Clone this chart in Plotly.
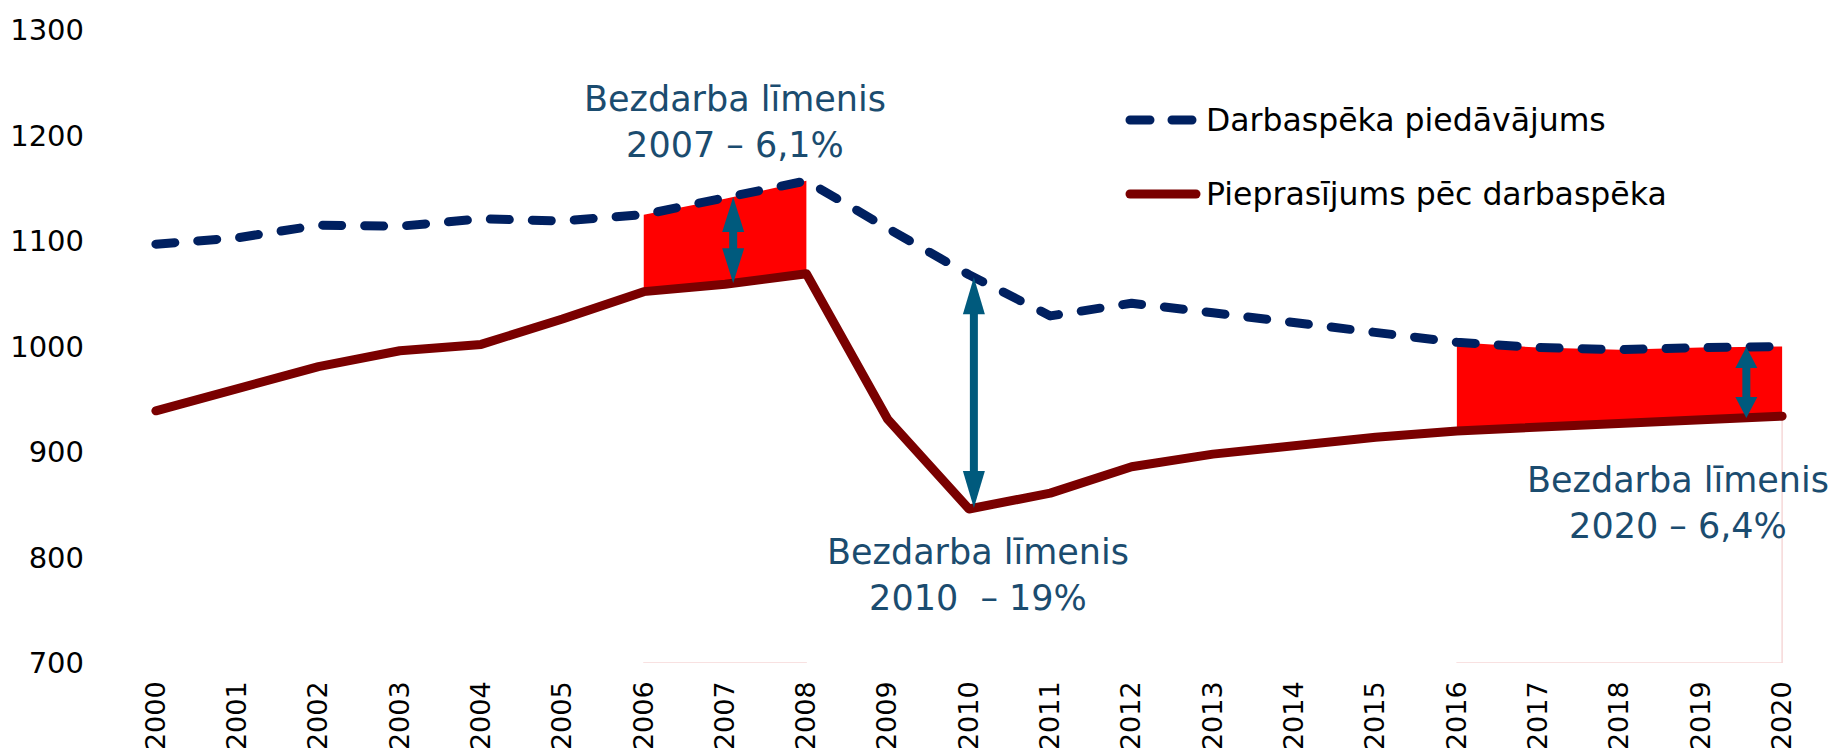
import numpy as np
import plotly.graph_objects as go

# ---------------- data ----------------
years = list(range(2000, 2021))
supply = [1097, 1103, 1115, 1114, 1121, 1119, 1125, 1140, 1157, 1112, 1068,
          1029, 1041, 1032, 1022, 1012, 1004, 999, 997, 999, 1000]
demand = [939, 960, 981, 996, 1002, 1026, 1052, 1059, 1069, 931, 846,
          861, 886, 898, 907, 914, 920, 924, 928, 930, 934]
shade_periods = [(2006, 2008), (2016, 2020)]
arrow_years = [2007.1, 2010.06, 2019.56]
note_texts = ["Bezdarba līmenis<br>2007 – 6,1%",
              "Bezdarba līmenis<br>2010\u00a0 – 19%",
              "Bezdarba līmenis<br>2020 – 6,4%"]
legend_names = ["Darbaspēka piedāvājums", "Pieprasījums pēc darbaspēka"]
y_ticks = [700, 800, 900, 1000, 1100, 1200, 1300]

# ---------------- style ----------------
W, H = 1834, 756
ML, MR, MT, MB = 151, 47, 30, 93
XR = [1999.94, 2020.06]
YR = [700, 1300]
plot_w = W - ML - MR
plot_h = H - MT - MB
px_x = plot_w / (XR[1] - XR[0])
px_y = plot_h / (YR[1] - YR[0])

FONT = "DejaVu Sans"
C_SUP = "#002060"
C_DEM = "#7A0000"
C_RED = "#FF0000"
C_ARR = "#005A7D"
C_TXT = "#1B4C6F"
C_EDGE = "#F6D8D8"

def to_x(px):
    return XR[0] + (px - ML) / px_x

def to_y(py):
    return YR[1] - (py - MT) / px_y

def pap_x(px):
    return (px - ML) / plot_w

def pap_y(py):
    return (MT + plot_h - py) / plot_h

fig = go.Figure()

yrs = np.array(years)
sup = np.array(supply, dtype=float)
dem = np.array(demand, dtype=float)

# faint outline of the shaded areas (area-chart edges)
for a, b in shade_periods:
    m = (yrs >= a) & (yrs <= b)
    xs = [a, b]
    ys = [YR[0], YR[0]]
    if b == years[-1]:
        xs += [b]
        ys += [dem[m][-1]]
    fig.add_trace(go.Scatter(x=xs, y=ys, mode="lines",
                             line=dict(color=C_EDGE, width=1.5),
                             hoverinfo="skip", showlegend=False))

# red shaded gap
for a, b in shade_periods:
    m = (yrs >= a) & (yrs <= b)
    fig.add_trace(go.Scatter(x=yrs[m], y=dem[m], mode="lines",
                             line=dict(width=0, color=C_RED),
                             hoverinfo="skip", showlegend=False))
    fig.add_trace(go.Scatter(x=yrs[m], y=sup[m], mode="lines", fill="tonexty",
                             fillcolor=C_RED, line=dict(width=0, color=C_RED),
                             hoverinfo="skip", showlegend=False))

# main lines
fig.add_trace(go.Scatter(x=years, y=demand, mode="lines", name=legend_names[1],
                         line=dict(color=C_DEM, width=9), showlegend=False))
fig.add_trace(go.Scatter(x=years, y=supply, mode="lines", name=legend_names[0],
                         line=dict(color=C_SUP, width=9, dash="19px,23px"),
                         showlegend=False))

# double-headed arrows
head_len_px = [35, 37, 21]
head_half_px = 11
for ax_year, hl in zip(arrow_years, head_len_px):
    top = float(np.interp(ax_year, yrs, sup))
    bot = float(np.interp(ax_year, yrs, dem))
    hd = hl / px_y
    hw = head_half_px / px_x
    fig.add_trace(go.Scatter(x=[ax_year, ax_year], y=[top - hd * 0.6, bot + hd * 0.6],
                             mode="lines", line=dict(color=C_ARR, width=8),
                             hoverinfo="skip", showlegend=False))
    fig.add_trace(go.Scatter(x=[ax_year, ax_year - hw, ax_year + hw, ax_year],
                             y=[top, top - hd, top - hd, top], mode="lines",
                             fill="toself", fillcolor=C_ARR,
                             line=dict(width=0, color=C_ARR),
                             hoverinfo="skip", showlegend=False))
    fig.add_trace(go.Scatter(x=[ax_year, ax_year - hw, ax_year + hw, ax_year],
                             y=[bot, bot + hd, bot + hd, bot], mode="lines",
                             fill="toself", fillcolor=C_ARR,
                             line=dict(width=0, color=C_ARR),
                             hoverinfo="skip", showlegend=False))

# annotations (text)
note_px = [(735, 121.5), (978, 574.5), (1678, 502.5)]
for txt, (nx, ny) in zip(note_texts, note_px):
    fig.add_annotation(x=to_x(nx), y=to_y(ny), xref="x", yref="y", text=txt,
                       showarrow=False, xanchor="center", yanchor="middle",
                       align="center", font=dict(family=FONT, size=35, color=C_TXT))

# manual legend
leg_rows = [120, 194]
leg_colors = [C_SUP, C_DEM]
leg_dash = ["20px,22px", "solid"]
for name, row, col, dsh in zip(legend_names, leg_rows, leg_colors, leg_dash):
    fig.add_shape(type="line", xref="paper", yref="paper",
                  x0=pap_x(1130), x1=pap_x(1196), y0=pap_y(row), y1=pap_y(row),
                  line=dict(color=col, width=9, dash=dsh))
    fig.add_annotation(x=pap_x(1204), y=pap_y(row), xref="paper", yref="paper",
                       text=name, showarrow=False, xanchor="left", yanchor="middle",
                       font=dict(family=FONT, size=31.5, color="#000000"))

fig.update_xaxes(range=XR, tickmode="array", tickvals=years,
                 ticktext=[str(y) for y in years], tickangle=-90,
                 showgrid=False, zeroline=False, showline=False, ticks="",
                 automargin=False, ticklabelstandoff=12,
                 tickfont=dict(family=FONT, size=27, color="#000000"))
fig.update_yaxes(range=YR, tickmode="array", tickvals=y_ticks,
                 showgrid=False, zeroline=False, showline=False, ticks="",
                 automargin=False, ticklabelstandoff=66,
                 tickfont=dict(family=FONT, size=29, color="#000000"))

fig.update_layout(width=W, height=H, autosize=False,
                  margin=dict(l=ML, r=MR, t=MT, b=MB, pad=0, autoexpand=False),
                  plot_bgcolor="white", paper_bgcolor="white",
                  showlegend=False, font=dict(family=FONT))

post = ("document.body.style.margin='0';"
        "document.body.style.overflow='hidden';"
        "var s=document.createElement('style');"
        "s.innerHTML='body{margin:0 !important;} .scatterlayer .js-line, .shapelayer path "
        "{stroke-linecap: round !important; stroke-linejoin: round !important;}';"
        "document.head.appendChild(s);")
fig.write_html("out.html", post_script=post, config={"displayModeBar": False})
